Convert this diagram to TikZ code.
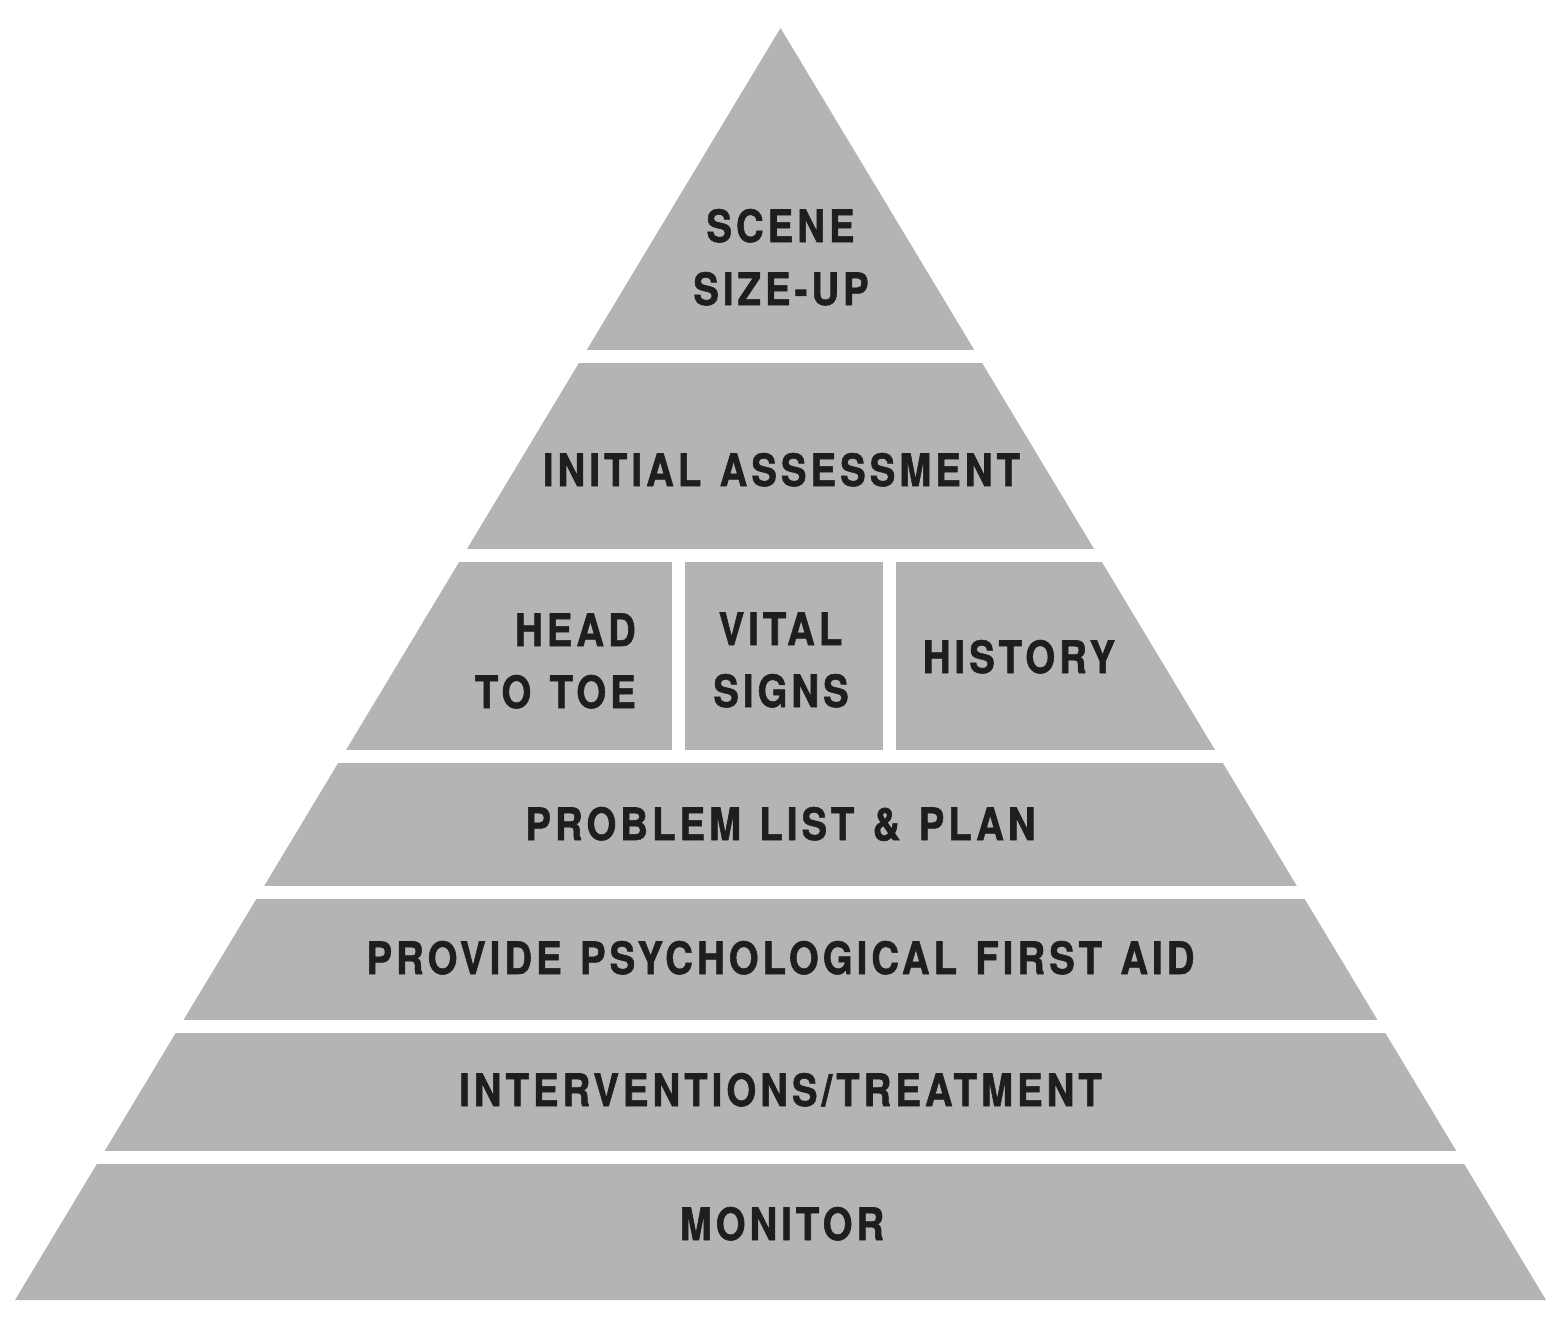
\documentclass[tikz,border=0pt]{standalone}
\usepackage{fontspec}
\newfontfamily\pyrfont[FakeStretch=0.86,LetterSpace=9,WordSpace=1.25,FakeBold=1.2]{TeX Gyre Heros}
\definecolor{bandgray}{HTML}{B4B4B4}
\definecolor{inkgray}{HTML}{1E1E1E}
\begin{document}
\begin{tikzpicture}[x=1pt,y=-1pt,
  lbl/.style={font=\pyrfont\bfseries\fontsize{44.6}{56}\selectfont, text=inkgray, inner sep=0pt, anchor=base},
  gap/.style={fill=white}]
\useasboundingbox (0,0) rectangle (1560,1317);
\fill[white] (0,0) rectangle (1560,1317);
% pyramid
\coordinate (apex) at (780.5,28);
\coordinate (bl) at (15,1300);
\coordinate (br) at (1546,1300);
\fill[bandgray] (apex) -- (br) -- (bl) -- cycle;
% horizontal gaps
\foreach \ya/\yb in {350/363, 549/562, 750/763, 886/899, 1020/1033, 1151/1164}
  \fill[gap] (0,\ya) rectangle (1560,\yb);
% vertical gaps in third band
\fill[gap] (672,562) rectangle (685,750);
\fill[gap] (883,562) rectangle (896,750);
% labels
\node[lbl] (scene1) at (780.5,242) {SCENE};
\node[lbl] (scene2) at (781,305) {SIZE-UP};
\node[lbl] (initial) at (781.5,486) {INITIAL ASSESSMENT};
\node[lbl, anchor=base east] (head1) at (636,646) {HEAD};
\node[lbl, anchor=base east] (head2) at (636,708) {TO TOE};
\node[lbl] (vital1) at (780.5,645) {VITAL};
\node[lbl] (vital2) at (781,707) {SIGNS};
\node[lbl] (history) at (1019,673) {HISTORY};
\node[lbl] (problem) at (780.5,840) {PROBLEM LIST \& PLAN};
\node[lbl] (pfa) at (780.5,974) {PROVIDE PSYCHOLOGICAL FIRST AID};
\node[lbl] (interv) at (780.5,1106) {INTERVENTIONS/TREATMENT};
\node[lbl] (monitor) at (782,1240) {MONITOR};
\end{tikzpicture}
\end{document}
